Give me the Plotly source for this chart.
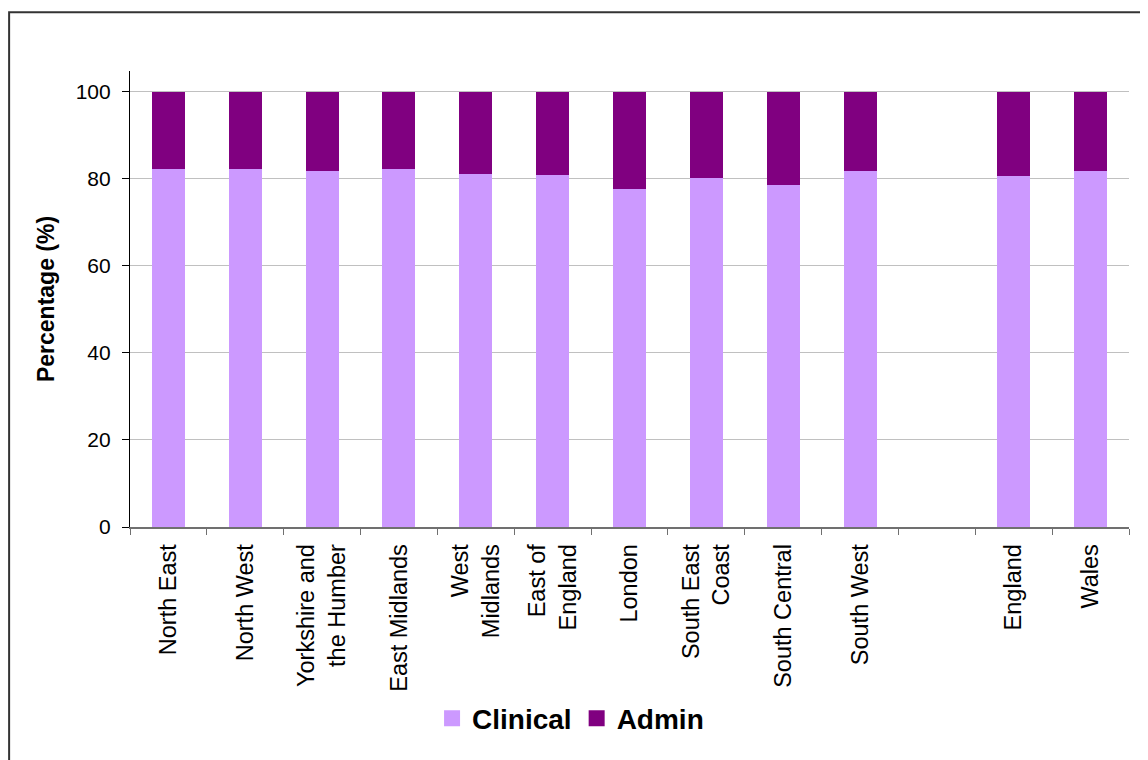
"""Clinical vs admin share of staff by region — stacked percentage bars."""
import plotly.graph_objects as go

_FONT = dict(family="Liberation Sans, Arial, sans-serif", color="#000000")
CLIN_COLOR = "#CC99FF"
ADMIN_COLOR = "#800080"

regions = [
    "North East", "North West", "Yorkshire and<br>the Humber", "East Midlands",
    "West<br>Midlands", "East of<br>England", "London", "South East<br>Coast",
    "South Central", "South West", " ", "England", "Wales",
]
clinical = [82.3, 82.3, 81.8, 82.3, 81.1, 80.8, 77.7, 80.2, 78.6, 81.8, None, 80.7, 81.8]
admin = [None if c is None else round(100 - c, 1) for c in clinical]

fig = go.Figure()
fig.add_bar(name="Clinical", x=regions, y=clinical, marker_color=CLIN_COLOR,
            marker_line_width=0, width=0.43, showlegend=False)
fig.add_bar(name="Admin", x=regions, y=admin, marker_color=ADMIN_COLOR,
            marker_line_width=0, width=0.43, showlegend=False)
# legend-only entries so the swatches are big squares like the original
for name, col in [("Clinical", CLIN_COLOR), ("Admin", ADMIN_COLOR)]:
    fig.add_scatter(name=name, x=[None], y=[None], mode="markers",
                    marker=dict(symbol="square", size=19, color=col))

fig.update_layout(
    barmode="stack", width=1148, height=760,
    paper_bgcolor="#ffffff", plot_bgcolor="#ffffff",
    font=_FONT, margin=dict(l=122, r=27, t=63, b=241),
    legend=dict(orientation="h", x=0.441, xanchor="center", y=-0.42, yanchor="middle",
                font=dict(_FONT, size=28, weight="bold"), itemwidth=30,
                traceorder="normal", tracegroupgap=0),
    xaxis=dict(type="category", tickson="boundaries", ticks="outside", ticklen=6,
               tickcolor="#707070", tickangle=-90, tickfont=dict(_FONT, size=23.5),
               ticklabelstandoff=6,
               showline=True, linecolor="#707070", linewidth=1.5, showgrid=False),
    yaxis=dict(range=[0, 104.8], tickvals=[0, 20, 40, 60, 80, 100], ticks="outside",
               ticklen=7, tickcolor="#000000", tickfont=dict(_FONT, size=21),
               ticklabelstandoff=7,
               showline=True, linecolor="#000000", linewidth=1.2,
               showgrid=True, gridcolor="#C0C0C0", gridwidth=1, zeroline=False,
               title=dict(text="Percentage (%)", font=dict(_FONT, size=23, weight="bold"),
                          standoff=14)),
    shapes=[dict(type="rect", xref="paper", yref="paper", x0=-0.121, x1=1.05,
                 y0=-0.6, y1=1.129, line=dict(color="#333333", width=2), layer="below")],
)
fig.write_html("out.html")
